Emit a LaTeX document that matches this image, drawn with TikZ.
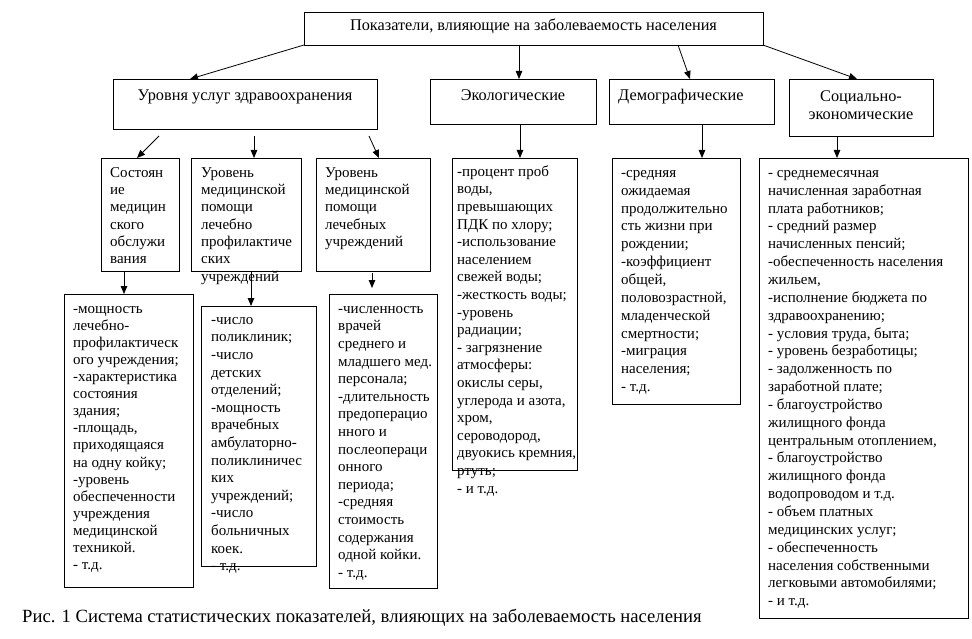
\documentclass[tikz,border=0pt]{standalone}
\usepackage{fontspec}
\setmainfont{Liberation Serif}
\usetikzlibrary{arrows.meta}
\begin{document}
\begin{tikzpicture}[x=1pt,y=-1pt,
  box/.style={draw,line width=0.9pt,anchor=north west,inner sep=0pt,outer sep=0pt},
  txt/.style={anchor=north west,align=left,inner sep=0pt,font=\fontsize{15}{17.6}\selectfont},
  txtA/.style={txt,font=\fontsize{15}{17.1}\selectfont},
  txtS/.style={txt,font=\fontsize{15}{17.3}\selectfont},
  txtW/.style={txt,font=\fontsize{15}{17.85}\selectfont},
  head/.style={inner sep=0pt,font=\fontsize{16.3}{18}\selectfont},
  arr/.style={line width=0.8pt,-{Triangle[length=8pt,width=6.5pt]}}]

\useasboundingbox[fill=white] (0,0) rectangle (972,639);

% boxes
\node[box,minimum width=459pt,minimum height=33pt] (top) at (304,12) {};
\node[box,minimum width=264pt,minimum height=50pt] (hc) at (113,79) {};
\node[box,minimum width=166pt,minimum height=45pt] (eco) at (430,79) {};
\node[box,minimum width=165pt,minimum height=45pt] (dem) at (609,79) {};
\node[box,minimum width=144pt,minimum height=57pt] (soc) at (789,79) {};
\node[box,minimum width=78pt,minimum height=113pt] (s1) at (101,158) {};
\node[box,minimum width=110pt,minimum height=113pt] (s2) at (191,158) {};
\node[box,minimum width=114pt,minimum height=113pt] (s3) at (316,158) {};
\node[box,minimum width=129pt,minimum height=293pt] (bA) at (64,294) {};
\node[box,minimum width=115pt,minimum height=260pt] (bB) at (201,306) {};
\node[box,minimum width=108pt,minimum height=294pt] (bC) at (329,294) {};
\node[box,minimum width=125pt,minimum height=312pt] (bD) at (452,158) {};
\node[box,minimum width=128pt,minimum height=246pt] (bE) at (612,158) {};
\node[box,minimum width=209pt,minimum height=460pt] (bF) at (759,158) {};

% headings
\node[head,anchor=base] (ttop) at ([yshift=-19pt]top.north) {Показатели, влияющие на заболеваемость населения};
\node[head,anchor=base] (thc) at ([yshift=-21.5pt]hc.north) {Уровня услуг здравоохранения};
\node[head,anchor=base] (teco) at ([yshift=-21.5pt]eco.north) {Экологические};
\node[head,anchor=base west] (tdem) at ([xshift=9pt,yshift=-21.5pt]dem.north west) {Демографические};
\node[head,anchor=north,align=center] (tsoc) at ([yshift=-10pt]soc.north) {\strut Социально-\\экономические};

% sub-box texts
\node[txtS] (ts1) at ([xshift=9pt,yshift=-6.9pt]s1.north west) {\strut Состоян\\ие\\медицин\\ского\\обслужи\\вания};
\node[txtS] (ts2) at ([xshift=10pt,yshift=-6.9pt]s2.north west) {\strut Уровень\\медицинской\\помощи\\лечебно\\профилактиче\\ских\\учреждений};
\node[txtS] (ts3) at ([xshift=9pt,yshift=-6.9pt]s3.north west) {\strut Уровень\\медицинской\\помощи\\лечебных\\учреждений};

% lower texts
\node[txtA] (tA) at ([xshift=9pt,yshift=-7pt]bA.north west) {\strut -мощность\\лечебно-\\профилактическ\\ого учреждения;\\-характеристика\\состояния\\здания;\\-площадь,\\приходящаяся\\на одну койку;\\-уровень\\обеспеченности\\учреждения\\медицинской\\техникой.\\- т.д.};
\node[txt] (tB) at ([xshift=10pt,yshift=-5.7pt]bB.north west) {\strut -число\\поликлиник;\\-число\\детских\\отделений;\\-мощность\\врачебных\\амбулаторно-\\поликлиничес\\ких\\учреждений;\\-число\\больничных\\коек.\\- т.д.};
\node[txt] (tC) at ([xshift=9pt,yshift=-6.7pt]bC.north west) {\strut -численность\\врачей\\среднего и\\младшего мед.\\персонала;\\-длительность\\предоперацио\\нного и\\послеопераци\\онного\\периода;\\-средняя\\стоимость\\содержания\\одной койки.\\- т.д.};
\node[txt] (tD) at ([xshift=5pt,yshift=-5.7pt]bD.north west) {\strut -процент проб\\воды,\\превышающих\\ПДК по хлору;\\-использование\\населением\\свежей воды;\\-жесткость воды;\\-уровень\\радиации;\\- загрязнение\\атмосферы:\\окислы серы,\\углерода и азота,\\хром,\\сероводород,\\двуокись кремния,\\ртуть;\\- и т.д.};
\node[txtW] (tE) at ([xshift=9pt,yshift=-6.7pt]bE.north west) {\strut -средняя\\ожидаемая\\продолжительно\\сть жизни при\\рождении;\\-коэффициент\\общей,\\половозрастной,\\младенческой\\смертности;\\-миграция\\населения;\\- т.д.};
\node[txtW] (tF) at ([xshift=9pt,yshift=-6.7pt]bF.north west) {\strut - среднемесячная\\начисленная заработная\\плата работников;\\- средний размер\\начисленных пенсий;\\-обеспеченность населения\\жильем,\\-исполнение бюджета по\\здравоохранению;\\- условия труда, быта;\\- уровень безработицы;\\- задолженность по\\заработной плате;\\- благоустройство\\жилищного фонда\\центральным отоплением,\\- благоустройство\\жилищного фонда\\водопроводом и т.д.\\- объем платных\\медицинских услуг;\\- обеспеченность\\населения собственными\\легковыми автомобилями;\\- и т.д.};

% caption
\node[anchor=base west,inner sep=0pt,font=\fontsize{18.65}{20}\selectfont] (cap) at (22,622) {Рис. 1 Система статистических показателей, влияющих на заболеваемость населения};

% connectors
\draw[arr] (top.south west) -- ([xshift=77pt]hc.north west);
\draw[arr] ([xshift=215pt]top.south west) -- ([xshift=89pt]eco.north west);
\draw[arr] ([xshift=374pt]top.south west) -- ([xshift=81pt]dem.north west);
\draw[arr] (top.south east) -- ([xshift=68pt]soc.north west);

\draw[arr] ([xshift=46pt,yshift=-7pt]hc.south west) -- ([xshift=36pt]s1.north west);
\draw[arr] ([xshift=141pt,yshift=-7pt]hc.south west) -- ([xshift=63pt]s2.north west);
\draw[arr] ([xshift=256pt,yshift=-7pt]hc.south west) -- ([xshift=63pt]s3.north west);

\draw[arr] ([xshift=23pt]s1.south west) -- ([xshift=60pt]bA.north west);
\draw[arr] ([xshift=60pt]s2.south west) -- ([xshift=50pt]bB.north west);
\draw[arr] ([xshift=56pt,yshift=-2pt]s3.south west) -- ([xshift=43pt,yshift=6pt]bC.north west);

\draw[arr] ([xshift=90pt]eco.south west) -- ([xshift=68pt]bD.north west);
\draw[arr] ([xshift=93pt]dem.south west) -- ([xshift=90pt]bE.north west);
\draw[arr] ([xshift=48pt]soc.south west) -- ([xshift=78pt]bF.north west);
\end{tikzpicture}
\end{document}
